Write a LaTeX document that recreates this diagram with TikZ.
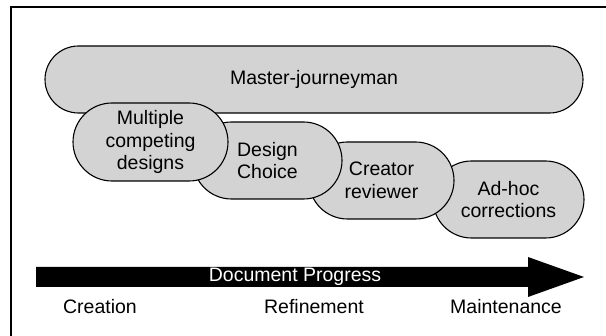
\documentclass[tikz,border=0pt]{standalone}
\usepackage{fontspec}
\setmainfont{Liberation Sans}
\usetikzlibrary{shapes.misc}
\definecolor{pillgray}{RGB}{211,211,211}
\begin{document}
\begin{tikzpicture}[x=1pt,y=-1pt,
  pill/.style={rounded rectangle, draw=black, line width=1.1pt, fill=pillgray,
    inner sep=0pt, align=center, font=\fontsize{19.5}{22.5}\selectfont},
  lbl/.style={inner sep=0pt, font=\fontsize{19.5}{22.5}\selectfont}]
\useasboundingbox (0,0) rectangle (606,336);
\fill[white] (0,0) rectangle (606,336);
% frame
\draw[line width=2pt] (11,336) -- (11,7) -- (606,7);
% pills (back to front)
\node[pill, minimum width=538pt, minimum height=67pt] (master) at (314,79.5) {Master-journeyman};
\node[pill, minimum width=151pt, minimum height=77pt] (adhoc) at (508.5,199.5) {Ad-hoc\\corrections};
\node[pill, minimum width=145pt, minimum height=77pt] (creator) at (381.5,180.5) {Creator\\reviewer};
\node[pill, minimum width=149pt, minimum height=77pt] (design) at (267.5,160.5) {Design\\Choice};
\node[pill, minimum width=155pt, minimum height=78pt] (multi) at (150.5,142) {Multiple\\competing\\designs};
% progress arrow
\fill[black] (36,267) -- (528,267) -- (528,257) -- (584,277) -- (528,297) -- (528,287) -- (36,287) -- cycle;
\node[lbl, text=white] (progress) at (295,276.5) {Document Progress};
\node[lbl] (creation) at (100,307) {Creation};
\node[lbl] (refine) at (314,307) {Refinement};
\node[lbl] (maint) at (506,307) {Maintenance};
\end{tikzpicture}
\end{document}
